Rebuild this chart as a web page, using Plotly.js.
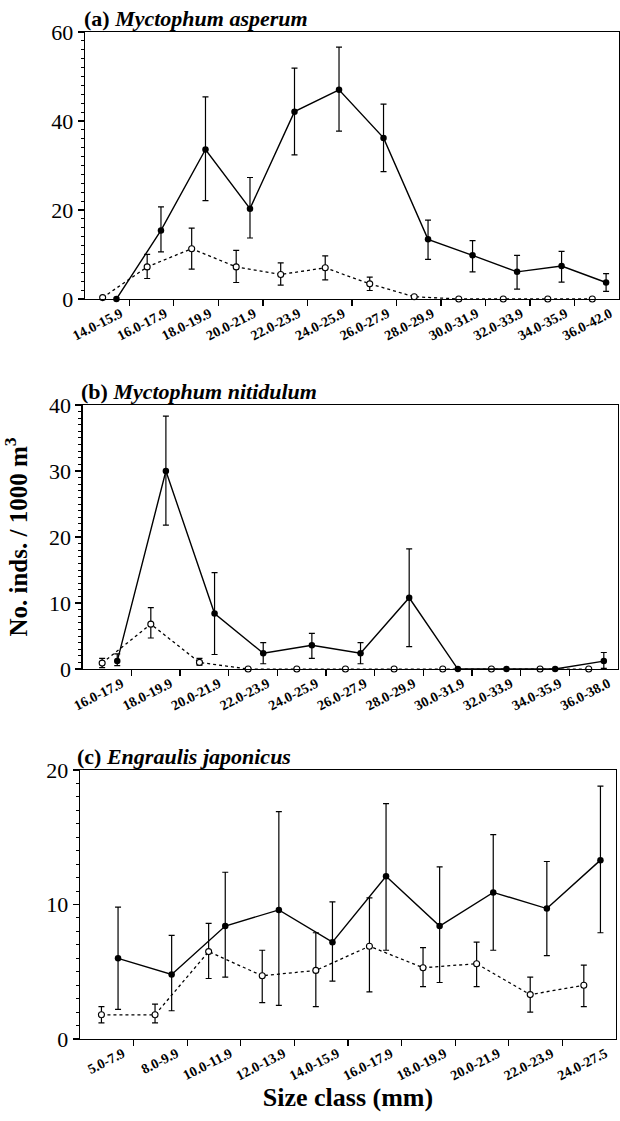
<!DOCTYPE html>
<html><head><meta charset="utf-8">
<script src="https://cdn.plot.ly/plotly-3.0.1.min.js"></script>
<style>body{margin:0;background:#fff}</style>
</head><body>
<div id="chart" style="width:620px;height:1121px"></div>
<script>
// ---- Panel (a) Myctophum asperum ----
const catA = ['14.0-15.9','16.0-17.9','18.0-19.9','20.0-21.9','22.0-23.9','24.0-25.9','26.0-27.9','28.0-29.9','30.0-31.9','32.0-33.9','34.0-35.9','36.0-42.0'];
const aFilled   = [0, 15.4, 33.6, 20.3, 42.1, 47.0, 36.2, 13.4, 9.8, 6.1, 7.4, 3.7];
const aFilledHi = [null, 20.7, 45.4, 27.3, 51.9, 56.6, 43.8, 17.7, 13.1, 9.8, 10.7, 5.7];
const aFilledLo = [null, 10.6, 22.1, 13.7, 32.4, 37.7, 28.6, 8.9, 6.1, 2.2, 3.8, 1.7];
const aOpen     = [0.3, 7.2, 11.3, 7.2, 5.5, 7.0, 3.4, 0.5, 0, 0, 0, 0];
const aOpenHi   = [null, 10.0, 15.9, 10.9, 8.1, 9.7, 4.9, null, null, null, null, null];
const aOpenLo   = [null, 4.6, 6.7, 3.7, 3.1, 4.3, 1.9, null, null, null, null, null];

// ---- Panel (b) Myctophum nitidulum ----
const catB = ['16.0-17.9','18.0-19.9','20.0-21.9','22.0-23.9','24.0-25.9','26.0-27.9','28.0-29.9','30.0-31.9','32.0-33.9','34.0-35.9','36.0-38.0'];
const bFilled   = [1.2, 30.0, 8.4, 2.4, 3.6, 2.4, 10.8, 0, 0, 0, 1.2];
const bFilledHi = [2.3, 38.3, 14.6, 4.0, 5.4, 4.0, 18.2, null, null, null, 2.5];
const bFilledLo = [0.5, 21.8, 2.2, 0.8, 1.6, 0.8, 3.4, null, null, null, 0.1];
const bOpen     = [0.9, 6.8, 1.0, 0, 0, 0, 0, 0, 0, 0, 0];
const bOpenHi   = [1.6, 9.3, 1.6, null, null, null, null, null, null, null, null];
const bOpenLo   = [0.2, 4.7, 0.6, null, null, null, null, null, null, null, null];

// ---- Panel (c) Engraulis japonicus ----
const catC = ['5.0-7.9','8.0-9.9','10.0-11.9','12.0-13.9','14.0-15.9','16.0-17.9','18.0-19.9','20.0-21.9','22.0-23.9','24.0-27.5'];
const cFilled   = [6.0, 4.8, 8.4, 9.6, 7.2, 12.1, 8.4, 10.9, 9.7, 13.3];
const cFilledHi = [9.8, 7.7, 12.4, 16.9, 10.2, 17.5, 12.8, 15.2, 13.2, 18.8];
const cFilledLo = [2.2, 2.1, 4.6, 2.5, 4.3, 6.6, 4.2, 6.6, 6.2, 7.9];
const cOpen     = [1.8, 1.8, 6.5, 4.7, 5.1, 6.9, 5.3, 5.6, 3.3, 4.0];
const cOpenHi   = [2.4, 2.6, 8.6, 6.6, 7.9, 10.5, 6.8, 7.2, 4.6, 5.5];
const cOpenLo   = [1.2, 1.2, 4.5, 2.7, 2.4, 3.5, 3.9, 3.9, 2.0, 2.4];

const titles = ['<b>(a) <i>Myctophum asperum</i></b>', '<b>(b) <i>Myctophum nitidulum</i></b>', '<b>(c) <i>Engraulis japonicus</i></b>'];
const yTitle = '<b>No. inds. / 1000 m<sup>3</sup></b>';
const xTitle = '<b>Size class (mm)</b>';

// ---- styling / geometry ----
const FONT = 'Liberation Serif, Times New Roman, serif';
const OPEN_OFF = -0.1, FILL_OFF = 0.21, LABEL_OFF = 0.3;

function errs(v, hi, lo) {
  return {
    type: 'data', symmetric: false,
    array: v.map((y, i) => hi[i] == null ? NaN : hi[i] - y),
    arrayminus: v.map((y, i) => lo[i] == null ? NaN : y - lo[i]),
    color: '#000', thickness: 1.2, width: 3
  };
}
function pair(cats, filled, fHi, fLo, open, oHi, oLo, xa, ya) {
  return [
    { type: 'scatter', mode: 'lines+markers', xaxis: xa, yaxis: ya, cliponaxis: false,
      x: cats.map((c, i) => i + OPEN_OFF), y: open,
      line: { color: '#000', width: 1.3, dash: 'dot' },
      marker: { symbol: 'circle', size: 6, color: '#fff', line: { color: '#000', width: 1.1 } },
      error_y: errs(open, oHi, oLo), showlegend: false, hoverinfo: 'y' },
    { type: 'scatter', mode: 'lines+markers', xaxis: xa, yaxis: ya, cliponaxis: false,
      x: cats.map((c, i) => i + FILL_OFF), y: filled,
      line: { color: '#000', width: 1.4 },
      marker: { symbol: 'circle', size: 6.5, color: '#000' },
      error_y: errs(filled, fHi, fLo), showlegend: false, hoverinfo: 'y' }
  ];
}
function xax(cats, domain, anchor) {
  return {
    domain, anchor, range: [-0.5, cats.length - 0.5],
    tickmode: 'array', tickvals: cats.map((c, i) => i + LABEL_OFF), ticktext: cats,
    ticks: '', tickangle: -27,
    tickfont: { family: FONT, size: 14, color: '#000', weight: 'bold' },
    showline: true, linecolor: '#000', linewidth: 1.3, mirror: true,
    showgrid: false, zeroline: false, fixedrange: true,
    minor: { tickmode: 'array', tickvals: cats.slice(1).map((c, i) => i + 0.5),
             ticks: 'outside', ticklen: 6, tickwidth: 1.2, tickcolor: '#000', showgrid: false }
  };
}
function yax(range, dtick, mdtick, domain, anchor) {
  return {
    domain, anchor, range, tickmode: 'linear', tick0: 0, dtick,
    ticks: 'outside', ticklen: 6, tickwidth: 1.2, tickcolor: '#000',
    tickfont: { family: FONT, size: 22, color: '#000' },
    showline: true, linecolor: '#000', linewidth: 1.3, mirror: true,
    showgrid: false, zeroline: false, fixedrange: true,
    minor: { tick0: 0, dtick: mdtick, ticks: 'outside', ticklen: 3, tickwidth: 1, tickcolor: '#000', showgrid: false }
  };
}

const data = [].concat(
  pair(catA, aFilled, aFilledHi, aFilledLo, aOpen, aOpenHi, aOpenLo, 'x', 'y'),
  pair(catB, bFilled, bFilledHi, bFilledLo, bOpen, bOpenHi, bOpenLo, 'x2', 'y2'),
  pair(catC, cFilled, cFilledHi, cFilledLo, cOpen, cOpenHi, cOpenLo, 'x3', 'y3')
);

const domA = [0.7349, 1.0], domB = [0.3674, 0.6296], domC = [0.0, 0.2671];

const layout = {
  width: 620, height: 1121,
  margin: { l: 80, r: 1, t: 32, b: 82 },
  paper_bgcolor: '#fff', plot_bgcolor: '#fff',
  font: { family: FONT, color: '#000' },
  showlegend: false,
  xaxis: xax(catA, [0.009, 1.0], 'y'),
  yaxis: yax([0, 60], 20, 2, domA, 'x'),
  xaxis2: xax(catB, [0.005, 0.998], 'y2'),
  yaxis2: Object.assign(yax([0, 40], 10, 1, domB, 'x2'),
    { title: { text: yTitle, font: { family: FONT, size: 25, color: '#000' }, standoff: 14 } }),
  xaxis3: Object.assign(xax(catC, [0.0, 0.9944], 'y3'),
    { title: { text: xTitle, font: { family: FONT, size: 26, color: '#000' }, standoff: 4 } }),
  yaxis3: yax([0, 20], 10, 1, domC, 'x3'),
  annotations: [
    { text: titles[0], xref: 'paper', yref: 'paper', x: 0.005, y: domA[1], xanchor: 'left', yanchor: 'bottom', showarrow: false, font: { family: FONT, size: 22, color: '#000' }, borderpad: 0 },
    { text: titles[1], xref: 'paper', yref: 'paper', x: 0.0, y: domB[1], xanchor: 'left', yanchor: 'bottom', showarrow: false, font: { family: FONT, size: 22, color: '#000' }, borderpad: 0 },
    { text: titles[2], xref: 'paper', yref: 'paper', x: -0.008, y: domC[1], xanchor: 'left', yanchor: 'bottom', showarrow: false, font: { family: FONT, size: 22, color: '#000' }, borderpad: 0 }
  ]
};

Plotly.newPlot('chart', data, layout, { displayModeBar: false, staticPlot: true });
</script>
</body></html>
